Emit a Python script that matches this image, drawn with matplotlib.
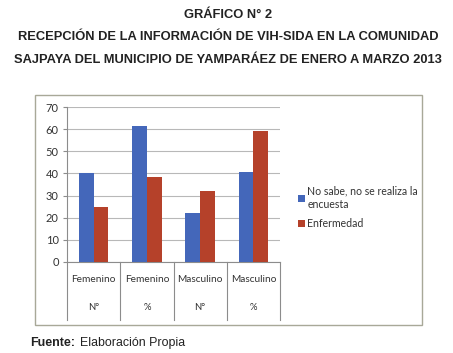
import matplotlib
matplotlib.use("Agg")
import matplotlib.pyplot as plt
from matplotlib.patches import Rectangle
import numpy as np

# data
categories = ["Femenino", "Femenino", "Masculino", "Masculino"]
subcats = ["N°", "%", "N°", "%"]
no_sabe = [40, 61.5, 22, 40.7]
enfermedad = [25, 38.5, 32, 59.3]
series_names = ["No sabe, no se realiza la\nencuesta", "Enfermedad"]

blue = "#4467BA"
red = "#B5412A"
cal = ["Lato", "DejaVu Sans"]

fig = plt.figure(figsize=(4.53, 3.53), dpi=100)

# titles
title_lines = ["GRÁFICO N° 2",
               "RECEPCIÓN DE LA INFORMACIÓN DE VIH-SIDA EN LA COMUNIDAD",
               "SAJPAYA DEL MUNICIPIO DE YAMPARÁEZ DE ENERO A MARZO 2013"]
for i, t in enumerate(title_lines):
    fig.text(0.503, 1 - (15 + 22.5 * i) / 353, t, ha="center", va="center",
             fontsize=9.3, fontweight="bold", family="Liberation Sans", color="#222222")

fig.text(30 / 453, 1 - 343 / 353, "Fuente:", ha="left", va="center",
         fontsize=8.9, fontweight="bold", family="Liberation Sans", color="#222222")
fig.text(80 / 453, 1 - 343 / 353, "Elaboración Propia", ha="left", va="center",
         fontsize=8.9, family="Liberation Sans", color="#222222")

# outer chart frame
fig.patches.append(Rectangle((35 / 453, 1 - 325 / 353), (422 - 35) / 453, (325 - 95) / 353,
                             transform=fig.transFigure, fill=False,
                             edgecolor="#A8A898", linewidth=1.0))

ax = fig.add_axes([67 / 453, 1 - 262 / 353, (280 - 67) / 453, (262 - 107) / 353])

x = np.arange(len(categories))
w = 0.278
ax.bar(x - w / 2, no_sabe, w, color=blue, label=series_names[0], zorder=3)
ax.bar(x + w / 2, enfermedad, w, color=red, label=series_names[1], zorder=3)

ax.set_xlim(-0.5, len(categories) - 0.5)
ax.set_ylim(0, 70)
ax.set_yticks(range(0, 71, 10))
ax.yaxis.grid(True, color="#B8B8B8", linewidth=0.8, zorder=0)
ax.set_axisbelow(True)
for s in ["top", "right"]:
    ax.spines[s].set_visible(False)
ax.spines["left"].set_color("#8C8C8C")
ax.spines["bottom"].set_color("#8C8C8C")
ax.tick_params(axis="y", length=3, color="#8C8C8C", labelsize=8, pad=3)
for lab in ax.get_yticklabels():
    lab.set_family(cal)
    lab.set_color("#333333")
ax.set_xticks([])

# two-level category labels with separators
sep_bottom = -(320 - 262) / (262 - 107)
for b in np.arange(-0.5, len(categories), 1.0):
    ax.plot([b, b], [0, sep_bottom], transform=ax.get_xaxis_transform(),
            color="#8C8C8C", linewidth=0.8, clip_on=False)
for xi, (c, s) in enumerate(zip(categories, subcats)):
    ax.text(xi, -(279 - 262) / 155, c, transform=ax.get_xaxis_transform(),
            ha="center", va="center", fontsize=7.3, family=cal, color="#333333")
    ax.text(xi, -(307 - 262) / 155, s, transform=ax.get_xaxis_transform(),
            ha="center", va="center", fontsize=6.8, family=cal, color="#333333")

leg = fig.legend(loc="upper left", bbox_to_anchor=(294 / 453, 1 - 181 / 353),
                 frameon=False, prop={"family": cal, "size": 7.6},
                 handlelength=0.6, handleheight=0.6, handletextpad=0.25,
                 labelspacing=0.75, borderaxespad=0)
for t in leg.get_texts():
    t.set_color("#333333")
    t.set_linespacing(1.35)

fig.savefig("out.png", dpi=100)
